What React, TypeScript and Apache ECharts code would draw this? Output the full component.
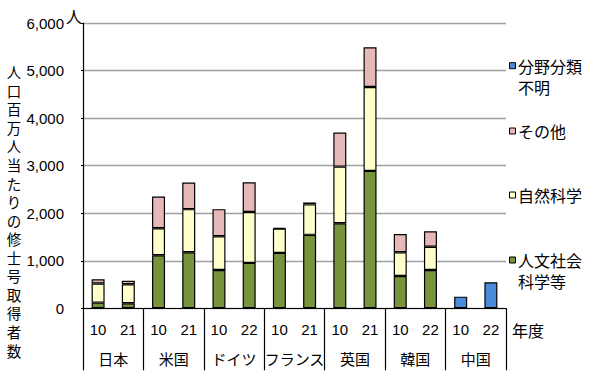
import React, { useEffect, useRef } from "react";
import * as echarts from "echarts";

const countries = ["日本", "米国", "ドイツ", "フランス", "英国", "韓国", "中国"];
const years = ["10", "21", "10", "21", "10", "22", "10", "21", "10", "21", "10", "22", "10", "22"];
const humanities = [120, 105, 1115, 1180, 805, 955, 1165, 1545, 1790, 2890, 680, 805, null, null];
const natural = [400, 400, 570, 905, 710, 1070, 510, 640, 1190, 1765, 500, 490, null, null];
const other = [90, 75, 665, 560, 570, 625, 15, 40, 715, 835, 380, 325, null, null];
const unknown = [null, null, null, null, null, null, null, null, null, null, null, null, 245, 547];
const yTicks = { min: 0, max: 6000, interval: 1000 };

const seriesNames = ["人文社会科学等", "自然科学", "その他", "分野分類不明"];
const seriesColors = ["#77933C", "#FFFFCC", "#E6B9B8", "#4A8BDB"];
const yTitle = "人口百万人当たりの修士号取得者数";

const FONT = "'Liberation Sans', 'Noto Sans CJK JP', sans-serif";
const CJK = "'Noto Sans CJK JP', sans-serif";

export default function App() {
  const ref = useRef<HTMLDivElement>(null);
  useEffect(() => {
    if (!ref.current) return;
    const chart = echarts.init(ref.current, null, { renderer: "svg" });
    const seriesData = [humanities, natural, other, unknown];
    const legendItems = [
      { idx: 3, y: 65.7, lines: ["分野分類", "不明"] },
      { idx: 2, y: 131, lines: ["その他"] },
      { idx: 1, y: 195, lines: ["自然科学"] },
      { idx: 0, y: 260, lines: ["人文社会", "科学等"] },
    ];
    const graphics: any[] = [];
    legendItems.forEach((it) => {
      graphics.push({
        type: "rect",
        shape: { x: 509.5, y: it.y - 3, width: 6, height: 6 },
        style: { fill: seriesColors[it.idx], stroke: "#000", lineWidth: 1 },
      });
      it.lines.forEach((ln, k) => {
        graphics.push({
          type: "text",
          x: 518,
          y: it.y + k * 21,
          style: {
            text: ln,
            fontSize: 16,
            fontFamily: CJK,
            fill: "#000",
            textVerticalAlign: "middle",
          },
        });
      });
    });
    const chars = yTitle.split("");
    const step = (350 - 71.7) / (chars.length - 1);
    chars.forEach((ch, i) => {
      graphics.push({
        type: "text",
        x: 14,
        y: 71.7 + i * step,
        style: {
          text: ch,
          fontSize: 14.5,
          fontFamily: CJK,
          fill: "#000",
          textAlign: "center",
          textVerticalAlign: "middle",
        },
      });
    });
    graphics.push({
      type: "text",
      x: 66,
      y: 16,
      style: { text: "人", fontSize: 16, fontFamily: CJK, fill: "#000", textVerticalAlign: "middle" },
    });
    graphics.push({
      type: "text",
      x: 512,
      y: 330,
      style: { text: "年度", fontSize: 16, fontFamily: CJK, fill: "#000", textVerticalAlign: "middle" },
    });

    chart.setOption({
      animation: false,
      grid: { left: 83, right: 94, top: 23, bottom: 69.7, containLabel: false },
      xAxis: [
        {
          type: "category",
          data: years,
          position: "bottom",
          axisLine: { show: true, lineStyle: { color: "#000", width: 1.2 } },
          axisTick: { show: false },
          axisLabel: { interval: 0, color: "#000", fontSize: 15, fontFamily: FONT, margin: 14 },
        },
        {
          type: "category",
          data: countries,
          position: "bottom",
          axisLine: { show: false },
          axisTick: { show: true, length: 62, lineStyle: { color: "#000", width: 1.2 } },
          axisLabel: { interval: 0, color: "#000", fontSize: 15, fontFamily: CJK, margin: 43 },
        },
      ],
      yAxis: {
        type: "value",
        min: yTicks.min,
        max: yTicks.max,
        interval: yTicks.interval,
        axisLine: { show: true, lineStyle: { color: "#000", width: 1.2 } },
        axisTick: { show: true, length: 2, lineStyle: { color: "#000" } },
        axisLabel: {
          color: "#000",
          fontSize: 15,
          fontFamily: FONT,
          margin: 19,
          formatter: (v: number) => v.toLocaleString("en-US"),
        },
        splitLine: { show: true, lineStyle: { color: "#A0A0A0", width: 1.3 } },
      },
      series: seriesNames.map((name, i) => ({
        name,
        type: "bar",
        stack: "total",
        xAxisIndex: 0,
        barWidth: 13,
        data: seriesData[i],
        itemStyle: { color: seriesColors[i], borderColor: "#000", borderWidth: 1.2 },
      })),
      graphic: graphics,
    });
    return () => chart.dispose();
  }, []);
  return (
    <div
      ref={ref}
      style={{ position: "fixed", left: 0, top: 0, width: 600, height: 378, background: "#fff" }}
    />
  );
}
